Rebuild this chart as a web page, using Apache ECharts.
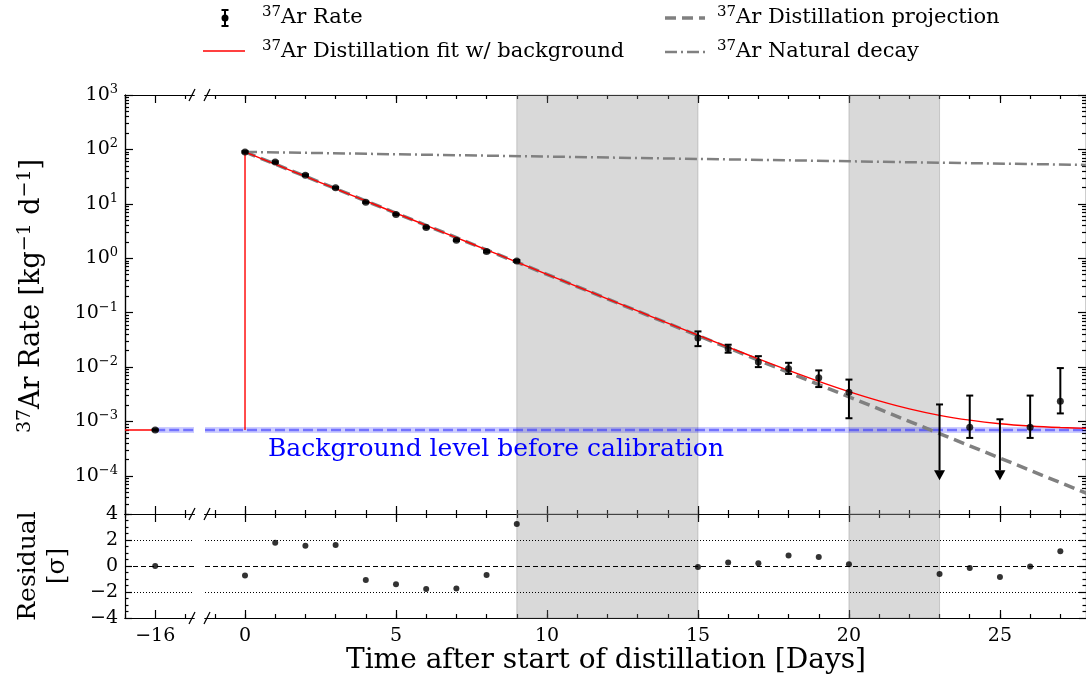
<!DOCTYPE html>
<html><head><meta charset="utf-8">
<script src="https://cdn.jsdelivr.net/npm/echarts@6/dist/echarts.min.js"></script>
<style>html,body{margin:0;padding:0;background:#fff}#c{width:1086px;height:679px}</style>
</head><body><div id="c"></div>
<script>
const FONT = 'DejaVu Serif';

// ---------------- data ----------------
const rateDays   = [-16, 0, 1, 2, 3, 4, 5, 6, 7, 8, 9, 15, 16, 17, 18, 19, 20, 24, 26, 27];
const rateValues = [7.0e-4, 90, 58.5, 33.7, 19.7, 10.7, 6.4, 3.68, 2.15, 1.33, 0.895, 0.0341, 0.0218, 0.0124, 0.0093, 0.0064, 0.00346, 7.85e-4, 7.85e-4, 2.37e-3];
const rateLow    = [6.8e-4, 87, 56.5, 32.6, 19.1, 10.4, 6.2, 3.56, 2.08, 1.28, 0.86, 0.0243, 0.0184, 0.0100, 0.0075, 0.0043, 0.00115, 5.0e-4, 5.0e-4, 1.41e-3];
const rateHigh   = [7.2e-4, 93, 60.5, 34.8, 20.3, 11.0, 6.6, 3.80, 2.22, 1.38, 0.93, 0.0453, 0.0258, 0.0159, 0.0120, 0.0087, 0.0059, 3.0e-3, 3.0e-3, 9.6e-3];
const limitDays   = [23, 25];
const limitValues = [2.06e-3, 1.1e-3];
const limitTip    = 8.3e-5;

const fitDays   = [0,1,2,3,4,5,6,7,8,9,10,11,12,13,14,15,16,17,18,19,20,21,22,23,24,25,26,27,28];
const fitValues = [90, 53.6, 31.9, 19.0, 11.33, 6.75, 4.02, 2.39, 1.43, 0.850, 0.507, 0.302, 0.180, 0.1076, 0.0644, 0.0386, 0.0233, 0.01416, 0.00872, 0.00548, 0.00355, 0.00240, 0.00171, 0.00130, 0.00106, 0.000913, 0.000827, 0.000776, 0.000745];
const projDays   = [0, 28];
const projValues = [90, 4.5e-5];
const natDays    = [0, 28];
const natValues  = [90, 51.7];
const bgLevel    = 7.0e-4;

const residualDays   = [-16, 0, 1, 2, 3, 4, 5, 6, 7, 8, 9, 15, 16, 17, 18, 19, 20, 23, 24, 25, 26, 27];
const residualValues = [0.0, -0.74, 1.79, 1.56, 1.62, -1.08, -1.41, -1.77, -1.73, -0.69, 3.23, -0.08, 0.26, 0.21, 0.80, 0.69, 0.13, -0.62, -0.15, -0.85, -0.03, 1.13];

const shadedSpans = [[9, 15], [20, 23]];

// tick labels
const yTickExps   = [-4, -3, -2, -1, 0, 1, 2, 3];
const xTicksRight = [0, 5, 10, 15, 20, 25];
const xTicksLeft  = [-16];
const residTicks  = [-4, -2, 0, 2, 4];

// axis ranges
const LEFT_X  = [-17, -14.715];
const RIGHT_X = [-1.325, 27.85];
const Y_LOG   = [2e-5, 1e3];

// ---------------- helpers ----------------
const majorLog = yTickExps.map(e => Number('1e' + e));
const minorLog = [];
for (let e = -5; e <= 2; e++) for (let m = 2; m <= 9; m++) minorLog.push(Number(m + 'e' + e));
const xMinorRight = []; for (let d = -1; d <= 27; d++) xMinorRight.push(d);
const xMinorLeft = [-17, -15];
const minus = v => (v < 0 ? '\u2212' + (-v) : String(v));
const black = {color: '#000', width: 1.2};

function xAx(gridIndex, range, pos, values, len, labels) {
  return {
    type: 'value', gridIndex, position: pos, min: range[0], max: range[1],
    axisLine: {show: true, onZero: false, lineStyle: black},
    axisTick: {show: true, inside: true, length: len, customValues: values, lineStyle: black},
    axisLabel: {show: !!labels, customValues: values, margin: 9, color: '#000',
      fontFamily: FONT, fontSize: 19, formatter: v => minus(v)},
    splitLine: {show: false}, minorTick: {show: false}
  };
}
const xAxes = [];
[[0, LEFT_X, xTicksLeft, xMinorLeft, false], [1, RIGHT_X, xTicksRight, xMinorRight, false],
 [2, LEFT_X, xTicksLeft, xMinorLeft, true],  [3, RIGHT_X, xTicksRight, xMinorRight, true]]
.forEach(([g, r, maj, mnr, lab]) => {
  xAxes.push(xAx(g, r, 'bottom', maj, 8, lab));   // index g*4
  xAxes.push(xAx(g, r, 'bottom', mnr, 4, false));
  xAxes.push(xAx(g, r, 'top', maj, 8, false));
  xAxes.push(xAx(g, r, 'top', mnr, 4, false));
});

function logAx(gridIndex, pos, values, len, labels) {
  return {
    type: 'log', logBase: 10, gridIndex, position: pos, min: Y_LOG[0], max: Y_LOG[1],
    axisLine: {show: true, onZero: false, lineStyle: black},
    axisTick: {show: true, inside: true, length: len, customValues: values, lineStyle: black},
    axisLabel: {show: !!labels, customValues: values, margin: 7, color: '#000',
      formatter: v => { const e = Math.round(Math.log10(v)); return '{b|10}{s|' + minus(e) + '}'; },
      rich: {b: {fontFamily: FONT, fontSize: 19, color: '#000'},
             s: {fontFamily: FONT, fontSize: 13, color: '#000', padding: [0, 0, 11, 0]}}},
    splitLine: {show: false}
  };
}
function resAx(gridIndex, pos, labels) {
  return {
    type: 'value', gridIndex, position: pos, min: -4, max: 4, interval: 2,
    axisLine: {show: true, onZero: false, lineStyle: black},
    axisTick: {show: true, inside: true, length: 7, lineStyle: black},
    minorTick: {show: true, splitNumber: 4, length: 3.5, lineStyle: black},
    axisLabel: {show: !!labels, margin: 7, color: '#000', fontFamily: FONT, fontSize: 19, formatter: v => minus(v)},
    splitLine: {show: false}
  };
}
const yAxes = [
  logAx(0, 'left', majorLog, 8, true),   // 0
  logAx(0, 'left', minorLog, 4, false),  // 1
  logAx(1, 'right', majorLog, 8, false), // 2
  logAx(1, 'right', minorLog, 4, false), // 3
  resAx(2, 'left', true),                // 4
  resAx(3, 'right', false)               // 5
];

function errRender(params, api) {
  const x = api.value(0), lo = api.value(1), hi = api.value(2);
  const a = api.coord([x, lo]), b = api.coord([x, hi]);
  const w = 3.5, st = {stroke: '#000', lineWidth: 2};
  return {type: 'group', children: [
    {type: 'line', shape: {x1: a[0], y1: a[1], x2: b[0], y2: b[1]}, style: st},
    {type: 'line', shape: {x1: a[0] - w, y1: a[1], x2: a[0] + w, y2: a[1]}, style: st},
    {type: 'line', shape: {x1: b[0] - w, y1: b[1], x2: b[0] + w, y2: b[1]}, style: st}
  ]};
}
function limitRender(params, api) {
  const x = api.value(0), top = api.value(1), tip = api.value(2);
  const a = api.coord([x, top]), b = api.coord([x, tip]);
  const ah = 10, aw = 5.5, w = 3.5, st = {stroke: '#000', lineWidth: 2};
  return {type: 'group', children: [
    {type: 'line', shape: {x1: a[0], y1: a[1], x2: b[0], y2: b[1] - ah}, style: st},
    {type: 'line', shape: {x1: a[0] - w, y1: a[1], x2: a[0] + w, y2: a[1]}, style: st},
    {type: 'polygon', shape: {points: [[b[0] - aw, b[1] - ah], [b[0] + aw, b[1] - ah], [b[0], b[1]]]}, style: {fill: '#000'}}
  ]};
}

const pts = rateDays.map((d, i) => [d, rateValues[i]]);
const errs = rateDays.map((d, i) => [d, rateLow[i], rateHigh[i]]);
const res = residualDays.map((d, i) => [d, residualValues[i]]);
const isLeft = p => p[0] < -10;

const bandSeries = (xi, yi, x0, x1) => [
  {type: 'line', xAxisIndex: xi, yAxisIndex: yi, data: [[x0, bgLevel], [x1, bgLevel]], symbol: 'none',
   lineStyle: {color: 'rgba(0,0,255,0.2)', width: 6}, z: 2, silent: true},
  {type: 'line', xAxisIndex: xi, yAxisIndex: yi, data: [[x0, bgLevel], [x1, bgLevel]], symbol: 'none',
   lineStyle: {color: 'rgba(40,40,255,0.55)', width: 2.5, type: [10, 4]}, z: 2, silent: true}
];
const shade = {silent: true, itemStyle: {color: 'rgba(128,128,128,0.3)', borderColor: 'rgba(128,128,128,0.35)', borderWidth: 1},
  data: shadedSpans.map(s => [{xAxis: s[0]}, {xAxis: s[1]}])};
const refLines = {silent: true, symbol: 'none', label: {show: false}, animation: false,
  lineStyle: {color: '#000', width: 1},
  data: [{yAxis: 0, lineStyle: {type: [5, 3], width: 1.2}},
         {yAxis: 2, lineStyle: {type: [1, 2]}},
         {yAxis: -2, lineStyle: {type: [1, 2]}}]};

const series = [
  {type: 'line', xAxisIndex: 4, yAxisIndex: 2, data: [], markArea: shade, z: 1},
  ...bandSeries(0, 0, -16, LEFT_X[1]),
  ...bandSeries(4, 2, RIGHT_X[0], 28),
  {type: 'line', xAxisIndex: 4, yAxisIndex: 2, data: natDays.map((d, i) => [d, natValues[i]]), symbol: 'none',
   lineStyle: {color: '#808080', width: 2.5, type: [12, 4, 2, 4]}, z: 3},
  {type: 'line', xAxisIndex: 4, yAxisIndex: 2, data: projDays.map((d, i) => [d, projValues[i]]), symbol: 'none',
   lineStyle: {color: '#808080', width: 3.5, type: [11, 6]}, z: 3},
  {type: 'line', xAxisIndex: 0, yAxisIndex: 0, data: [[LEFT_X[0], bgLevel], [-16, bgLevel]], symbol: 'none',
   lineStyle: {color: '#ff0000', width: 1.4}, z: 4},
  {type: 'line', xAxisIndex: 4, yAxisIndex: 2, data: [[0, bgLevel], [0, fitValues[0]]], symbol: 'none',
   lineStyle: {color: '#ff0000', width: 1.4}, z: 4},
  {type: 'line', xAxisIndex: 4, yAxisIndex: 2, data: fitDays.map((d, i) => [d, fitValues[i]]), symbol: 'none', smooth: 0.25,
   lineStyle: {color: '#ff0000', width: 1.4}, z: 4},
  {type: 'custom', xAxisIndex: 0, yAxisIndex: 0, data: errs.filter(isLeft), renderItem: errRender, encode: {x: 0, y: [1, 2]}, z: 5},
  {type: 'custom', xAxisIndex: 4, yAxisIndex: 2, data: errs.filter(p => !isLeft(p)), renderItem: errRender, encode: {x: 0, y: [1, 2]}, z: 5},
  {type: 'custom', xAxisIndex: 4, yAxisIndex: 2, data: limitDays.map((d, i) => [d, limitValues[i], limitTip]), renderItem: limitRender, encode: {x: 0, y: [1, 2]}, z: 5},
  {type: 'scatter', xAxisIndex: 0, yAxisIndex: 0, data: pts.filter(isLeft), symbol: 'circle', symbolSize: 7, itemStyle: {color: '#000'}, z: 6},
  {type: 'scatter', xAxisIndex: 4, yAxisIndex: 2, data: pts.filter(p => !isLeft(p)), symbol: 'circle', symbolSize: 7, itemStyle: {color: '#000'}, z: 6},
  {type: 'scatter', xAxisIndex: 8, yAxisIndex: 4, data: res.filter(isLeft), symbol: 'circle', symbolSize: 6, itemStyle: {color: '#000'}, markLine: refLines, z: 6},
  {type: 'scatter', xAxisIndex: 12, yAxisIndex: 5, data: res.filter(p => !isLeft(p)), symbol: 'circle', symbolSize: 6, itemStyle: {color: '#000'}, markLine: refLines, markArea: shade, z: 6}
];

// ---------------- graphic: legend, titles, breaks ----------------
const sup = {fontFamily: FONT, fontSize: 15, fill: '#000', padding: [0, 0, 11, 0]};
const nrm = {fontFamily: FONT, fontSize: 21, fill: '#000'};
function legText(x, y, txt) {
  return {type: 'text', x, y, style: {text: '{s|37}{n|' + txt + '}', rich: {s: sup, n: nrm}, verticalAlign: 'middle', align: 'left'}};
}
const graphics = [];
[95, 514, 618].forEach(y => {
  graphics.push({type: 'line', shape: {x1: 189, y1: y + 6, x2: 195, y2: y - 6}, style: {stroke: '#000', lineWidth: 1.3}, z: 50});
  graphics.push({type: 'line', shape: {x1: 204, y1: y + 6, x2: 210, y2: y - 6}, style: {stroke: '#000', lineWidth: 1.3}, z: 50});
});
graphics.push(
  {type: 'line', shape: {x1: 225, y1: 10, x2: 225, y2: 26}, style: {stroke: '#000', lineWidth: 2}},
  {type: 'line', shape: {x1: 221.5, y1: 10, x2: 228.5, y2: 10}, style: {stroke: '#000', lineWidth: 2}},
  {type: 'line', shape: {x1: 221.5, y1: 26, x2: 228.5, y2: 26}, style: {stroke: '#000', lineWidth: 2}},
  {type: 'circle', shape: {cx: 225, cy: 18, r: 3.5}, style: {fill: '#000'}},
  legText(262, 18, 'Ar Rate'),
  {type: 'line', shape: {x1: 203, y1: 51, x2: 245, y2: 51}, style: {stroke: '#ff0000', lineWidth: 1.4}},
  legText(262, 52, 'Ar Distillation fit w/ background'),
  {type: 'line', shape: {x1: 665, y1: 18, x2: 705, y2: 18}, style: {stroke: '#808080', lineWidth: 3.5, lineDash: [11, 6]}},
  legText(717, 18, 'Ar Distillation projection'),
  {type: 'line', shape: {x1: 665, y1: 52, x2: 705, y2: 52}, style: {stroke: '#808080', lineWidth: 2.5, lineDash: [12, 4, 2, 4]}},
  legText(717, 52, 'Ar Natural decay')
);
graphics.push({type: 'text', x: 32, y: 296, rotation: Math.PI / 2,
  style: {text: '{s|37}{n|Ar Rate [kg}{s|\u22121}{n| d}{s|\u22121}{n|]}', align: 'center', verticalAlign: 'middle',
    rich: {s: {fontFamily: FONT, fontSize: 19, fill: '#000', padding: [0, 0, 13, 0]}, n: {fontFamily: FONT, fontSize: 27, fill: '#000'}}}});
graphics.push({type: 'text', x: 43, y: 566, rotation: Math.PI / 2,
  style: {text: 'Residual\n[\u03c3]', align: 'center', verticalAlign: 'middle', fontFamily: FONT, fontSize: 25, lineHeight: 29, fill: '#000'}});
graphics.push({type: 'text', x: 606, y: 661,
  style: {text: 'Time after start of distillation [Days]', align: 'center', verticalAlign: 'middle', fontFamily: FONT, fontSize: 28, fill: '#000'}});
graphics.push({type: 'text', x: 268, y: 449,
  style: {text: 'Background level before calibration', align: 'left', verticalAlign: 'middle', fontFamily: FONT, fontSize: 25, fill: '#0000ff'}, z: 40});

const chart = echarts.init(document.getElementById('c'), null, {renderer: 'canvas'});
chart.setOption({
  animation: false,
  backgroundColor: '#fff',
  textStyle: {fontFamily: FONT},
  grid: [
    {left: 125, top: 95, width: 69, height: 419},
    {left: 205, top: 95, width: 881, height: 419},
    {left: 125, top: 514, width: 69, height: 104},
    {left: 205, top: 514, width: 881, height: 104}
  ],
  xAxis: xAxes,
  yAxis: yAxes,
  series,
  graphic: graphics
});
</script></body></html>
